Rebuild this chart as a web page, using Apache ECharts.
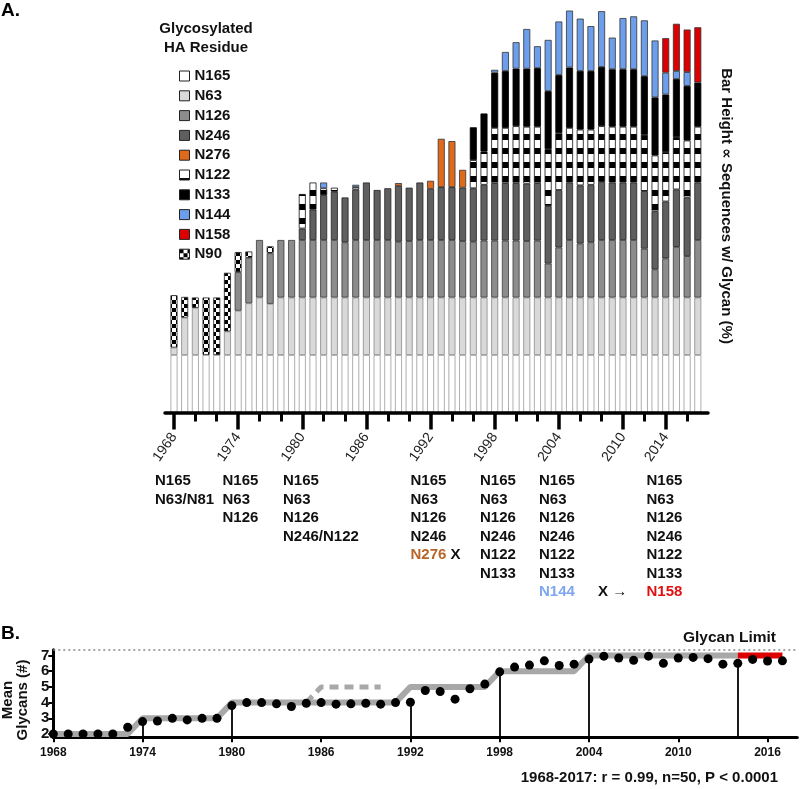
<!DOCTYPE html>
<html><head><meta charset="utf-8">
<script src="https://cdn.jsdelivr.net/npm/echarts@6/dist/echarts.min.js"></script>
<style>html,body{margin:0;padding:0;background:#fff}#c{width:800px;height:789px}</style>
</head><body><div id="c"></div>
<script>
// ---------- DATA ----------
const years = [1968,1969,1970,1971,1972,1973,1974,1975,1976,1977,1978,1979,
1980,1981,1982,1983,1984,1985,1986,1987,1988,1989,
1990,1991,1992,1993,1994,1995,1996,1997,1998,1999,
2000,2001,2002,2003,2004,2005,2006,2007,2008,2009,
2010,2011,2012,2013,2014,2015,2016,2017];

// Panel A: fraction of sequences carrying each glycan (1 = 100%)
const N165 = [1,1,1,1,1,1,1,1,1,1,1,1, 1,1,1,1,1,1,1,1,1,1, 1,1,1,1,1,1,1,1,1,1, 1,1,1,1,1,1,1,1,1,1, 1,1,1,1,1,1,1,1];
const N63  = [0.13,0.65,0.82,0,0,0.41,0.77,0.9,1,0.89,1,1, 1,1,1,1,1,1,1,1,1,1, 1,1,1,1,1,1,1,1,1,1, 1,1,1,1,1,1,1,1,1,1, 1,1,1,1,1,1,1,1];
const N126 = [0,0,0,0,0,0,0.67,0.79,1,0.88,1,1, 1,1,1,1,0.96,1,1,1,1,0.97, 0.98,1,1,1,1,0.98,0.97,0.99,0.99,0.99, 0.99,0.98,0.99,0.59,0.87,1,0.94,0.96,1,1, 1,1,0.85,0.49,0.68,0.88,0.72,1];
const N246 = [0,0,0,0,0,0,0,0,0,0,0,0, 0.2,0.53,0.78,0.84,0.78,0.88,1,0.87,0.9,0.97, 0.93,1,0.89,0.92,0.92,0.93,0.93,0.97,1,1, 1,1,1,1,1,1,1.01,1,1.01,1, 1,1,1,1.01,0.99,1,1.02,1];
const N276 = [0,0,0,0,0,0,0,0,0,0,0,0, 0,0,0,0,0,0,0,0,0,0.05, 0,0,0.14,0.84,0.8,0.31,0,0,0,0, 0,0,0,0,0,0,0,0,0,0, 0,0,0,0,0,0,0,0];
const N122 = [0,0,0,0,0,0,0,0,0,0,0,0, 0.6,0.47,0.12,0.07,0,0.04,0,0,0,0, 0,0,0,0,0,0,0.49,0.58,0.96,0.96, 0.99,0.99,0.98,0.99,0.99,0.95,0.97,0.96,0.97,0.97, 0.97,0.97,0.98,0.97,0.86,0.91,0.99,0.97];
const N133 = [0,0,0,0,0,0,0,0,0,0,0,0, 0,0,0,0,0,0,0,0,0,0, 0,0,0,0,0,0,0.57,0.66,0.96,0.99, 1,1.01,1.02,1.01,1.01,1.05,1.02,1.02,1.03,1, 1,1,1.02,1.01,1,1.01,0.95,0.77];
const N144 = [0,0,0,0,0,0,0,0,0,0,0,0, 0,0,0.1,0,0,0.04,0,0,0,0, 0,0,0,0,0,0,0,0,0.05,0.33, 0.46,0.69,0.38,0.89,0.93,0.99,0.91,0.78,0.97,0.55, 0.89,0.92,0.97,0.99,0.38,0.14,0.24,0];
const N158 = [0,0,0,0,0,0,0,0,0,0,0,0, 0,0,0,0,0,0,0,0,0,0, 0,0,0,0,0,0,0,0,0,0, 0,0,0,0,0,0,0,0,0,0, 0,0,0,0,0.6,0.82,0.74,0.96];
const N90  = [0.91,0.36,0.18,1,1,1.02,0.35,0.11,0,0.12,0,0, 0,0,0,0,0,0,0,0,0,0, 0,0,0,0,0,0,0,0,0,0, 0,0,0,0,0,0,0,0,0,0, 0,0,0,0,0,0,0,0];

const majorTicksA = [1968,1974,1980,1986,1992,1998,2004,2010,2014];
const minorTicksA = [1970,1972,1976,1978,1982,1984,1988,1990,1994,1996,2000,2002,2006,2008,2012,2016];

// Panel B
const meanGlycans = [2.0,2.0,2.0,2.0,2.0,2.43,2.79,2.83,3.0,2.9,3.0,3.0,
3.81,4.0,4.0,3.92,3.75,3.96,4.0,3.9,3.92,3.96,3.9,4.0,
4.02,4.77,4.7,4.22,4.88,5.18,5.96,6.26,6.39,6.66,6.36,6.45,6.77,6.96,6.84,6.69,6.96,6.5,6.84,6.88,6.8,6.45,6.5,6.75,6.65,6.66];
const stemYears = [1974,1980,1992,1998,2004,2014];
const stepYears  = [1968,1973,1974,1979,1980,1991,1992,1997,1998,2003,2004,2014];
const stepLevels = [2,2,3,3,4,4,5,5,6,6,7,7];
const altYears  = [1985,1986,1990];
const altLevels = [4,5,5];
const limitYears  = [2014,2017];
const limitLevels = [7,7];
const glycanLimit = 7.36;
const ticksB = [1968,1974,1980,1986,1992,1998,2004,2010,2016];
const yTicksB = [2,3,4,5,6,7];

// ---------- RENDER ----------
const FF = "'Liberation Sans', Arial, 'DejaVu Sans', sans-serif";
function stripes(){const c=document.createElement('canvas');c.width=8;c.height=14;const g=c.getContext('2d');g.fillStyle='#fff';g.fillRect(0,0,8,14);g.fillStyle='#000';g.fillRect(0,8,8,6);return c;}
function checker(){const c=document.createElement('canvas');c.width=8;c.height=8;const g=c.getContext('2d');g.fillStyle='#fff';g.fillRect(0,0,8,8);g.fillStyle='#000';g.fillRect(0,0,4,4);g.fillRect(4,4,4,4);return c;}

const stackDefs = [
  {name:'N165', data:N165, color:'#ffffff', border:'#9a9a9a'},
  {name:'N63',  data:N63,  color:'#d9d9d9', border:'#8a8a8a'},
  {name:'N126', data:N126, color:'#8c8c8c', border:'#3a3a3a'},
  {name:'N246', data:N246, color:'#5f5f5f', border:'#222222'},
  {name:'N276', data:N276, color:'#e06a1c', border:'#333333'},
  {name:'N122', data:N122, color:{image:stripes(), repeat:'repeat'}, border:'#111111'},
  {name:'N133', data:N133, color:'#000000', border:'#000000'},
  {name:'N144', data:N144, color:'#6d9eeb', border:'#333333'},
  {name:'N158', data:N158, color:'#dd0000', border:'#333333'},
  {name:'N90',  data:N90,  color:{image:checker(), repeat:'repeat'}, border:'#222222'}
];

const barSeries = stackDefs.map(d => ({
  name:d.name, type:'bar', stack:'glycans', xAxisIndex:0, yAxisIndex:0,
  barWidth:7, z:2,
  itemStyle:{color:d.color, borderColor:d.border, borderWidth:0.8},
  data: d.data.map(v => v ? v : null)
}));

const notes = [
  {x:155,   text:'N165\nN63/N81'},
  {x:222.5, text:'N165\nN63\nN126'},
  {x:283,   text:'N165\nN63\nN126\nN246/N122'},
  {x:410.5, text:'N165\nN63\nN126\nN246\n{o|N276} X'},
  {x:480,   text:'N165\nN63\nN126\nN246\nN122\nN133'},
  {x:539,   text:'N165\nN63\nN126\nN246\nN122\nN133\n{b|N144}'},
  {x:646.5, text:'N165\nN63\nN126\nN246\nN122\nN133\n{r|N158}'}
];
const noteFont = 'bold 15px ' + FF;
const noteGraphics = notes.map(n => ({
  type:'text', x:n.x, y:472, silent:true,
  style:{text:n.text, font:noteFont, fill:'#111', lineHeight:18.5, align:'left', verticalAlign:'top',
    rich:{o:{fill:'#b8652a', font:noteFont, lineHeight:18.5},
          b:{fill:'#7fa6ee', font:noteFont, lineHeight:18.5},
          r:{fill:'#e01010', font:noteFont, lineHeight:18.5}}}
}));

const chart = echarts.init(document.getElementById('c'), null, {renderer:'canvas'});
const option = {
  animation:false,
  backgroundColor:'#fff',
  legend:{
    orient:'vertical', left:174, top:63.5, itemWidth:10, itemHeight:10, itemGap:4.8,
    icon:'rect', selectedMode:false,
    textStyle:{fontSize:15, fontWeight:'bold', color:'#111', fontFamily:FF},
    data: stackDefs.map(d => ({name:d.name, itemStyle:{borderColor:'#222', borderWidth:1}}))
  },
  grid:[
    {left:168.65, right:96.85, top:10, height:402.5},   // bars (year categories)
    {left:53.3, right:2.7, top:649.85, height:87.3},     // panel B
    {left:165, right:92, top:10, height:402.5}           // panel A year axis
  ],
  xAxis:[
    {type:'category', gridIndex:0, data:years, boundaryGap:true, show:false},
    {type:'value', gridIndex:2, position:'bottom', min:1967.16, max:2017.95, z:5,
     axisLine:{lineStyle:{color:'#000', width:3.5}},
     axisTick:{customValues:majorTicksA, length:17, lineStyle:{color:'#000', width:3.5}},
     axisLabel:{customValues:majorTicksA, rotate:55, margin:22, fontSize:14, color:'#222', fontFamily:FF, formatter:v=>String(v)},
     splitLine:{show:false}},
    {type:'value', gridIndex:2, position:'bottom', min:1967.16, max:2017.95, z:5,
     axisLine:{show:false},
     axisTick:{customValues:minorTicksA, length:9, lineStyle:{color:'#000', width:3}},
     axisLabel:{show:false}, splitLine:{show:false}},
    {type:'value', gridIndex:1, min:1968, max:2018,
     axisLine:{lineStyle:{color:'#000', width:3}},
     axisTick:{customValues:ticksB, length:5, lineStyle:{color:'#000', width:2}},
     axisLabel:{customValues:ticksB, margin:10, fontSize:12, fontWeight:'bold', color:'#111', fontFamily:FF, formatter:v=>String(v)},
     splitLine:{show:false}}
  ],
  yAxis:[
    {type:'value', gridIndex:0, min:0, max:7, show:false},
    {type:'value', gridIndex:1, min:1.8, max:7.36,
     axisLine:{show:true, lineStyle:{color:'#000', width:3}},
     axisTick:{show:true, customValues:yTicksB, length:5, lineStyle:{color:'#000', width:2}},
     axisLabel:{customValues:yTicksB, margin:4, fontSize:15, fontWeight:'bold', color:'#111', fontFamily:FF},
     splitLine:{show:false}},
    {type:'value', gridIndex:2, min:0, max:7, show:false}
  ],
  series: barSeries.concat([
    {type:'line', name:'model', xAxisIndex:3, yAxisIndex:1, symbol:'none', silent:true, z:2,
     lineStyle:{color:'#a8a8a8', width:6}, data:stepYears.map((y,i)=>[y, stepLevels[i]]),
     markLine:{symbol:'none', silent:true, label:{show:false}, lineStyle:{type:[2,3], color:'#888', width:1.5},
       data:[{yAxis:glycanLimit}]}},
    {type:'line', name:'alt', xAxisIndex:3, yAxisIndex:1, symbol:'none', silent:true, z:2,
     lineStyle:{color:'#a8a8a8', width:5, type:[9,6]}, data:altYears.map((y,i)=>[y, altLevels[i]])},
    {type:'line', name:'limit', xAxisIndex:3, yAxisIndex:1, symbol:'none', silent:true, z:3,
     lineStyle:{color:'#dd0000', width:6}, data:limitYears.map((y,i)=>[y, limitLevels[i]])},
    {type:'scatter', name:'mean', xAxisIndex:3, yAxisIndex:1, symbolSize:9, z:5, silent:true,
     itemStyle:{color:'#000', opacity:1}, data:years.map((y,i)=>[y, meanGlycans[i]]),
     markLine:{symbol:'none', silent:true, label:{show:false}, lineStyle:{type:'solid', color:'#000', width:1.8, opacity:1},
       data:stemYears.map(y=>[{coord:[y,1.8]},{coord:[y, meanGlycans[years.indexOf(y)]]}])}}
  ]),
  graphic: [
    {type:'text', x:1, y:11, silent:true, style:{text:'A.', font:'bold 19px '+FF, fill:'#000', verticalAlign:'middle'}},
    {type:'text', x:1, y:634, silent:true, style:{text:'B.', font:'bold 19px '+FF, fill:'#000', verticalAlign:'middle'}},
    {type:'text', x:206, y:38.5, silent:true, style:{text:'Glycosylated\nHA Residue', font:'bold 15px '+FF, fill:'#111', lineHeight:19, align:'center', verticalAlign:'middle'}},
    {type:'text', x:726, y:206, rotation:-Math.PI/2, silent:true, style:{text:'Bar Height \u221D Sequences w/ Glycan (%)', font:'bold 15px '+FF, fill:'#111', align:'center', verticalAlign:'middle'}},
    {type:'text', x:15, y:700, rotation:Math.PI/2, silent:true, style:{text:'Mean\nGlycans (#)', font:'bold 15px '+FF, fill:'#111', lineHeight:15, align:'center', verticalAlign:'middle'}},
    {type:'text', x:776, y:638, silent:true, style:{text:'Glycan Limit', font:'bold 15.5px '+FF, fill:'#111', align:'right', verticalAlign:'middle'}},
    {type:'text', x:778, y:777.5, silent:true, style:{text:'1968-2017: r = 0.99, n=50, P < 0.0001', font:'bold 15px '+FF, fill:'#111', align:'right', verticalAlign:'middle'}},
    {type:'text', x:598, y:592, silent:true, style:{text:'X \u2192', font:'bold 15px '+FF, fill:'#111', align:'left', verticalAlign:'middle'}}
  ].concat(noteGraphics)
};
chart.setOption(option);
</script>
</body></html>
